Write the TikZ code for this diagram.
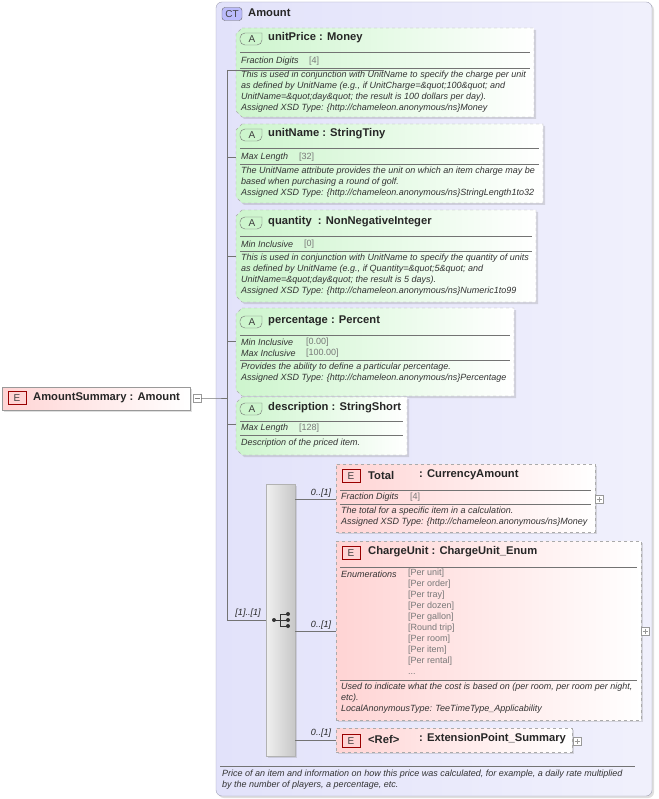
\documentclass[tikz,border=0pt]{standalone}
\usepackage{fontspec}
\setmainfont{Liberation Sans}
\usetikzlibrary{shadows}
\definecolor{ctfill}{RGB}{226,226,250}
\definecolor{ctline}{RGB}{160,160,180}
\definecolor{grn}{RGB}{205,245,205}
\definecolor{pnk}{RGB}{255,212,212}
\definecolor{dash}{RGB}{170,170,170}
\definecolor{valc}{RGB}{120,120,120}
\begin{document}
\begin{tikzpicture}[x=1pt,y=-1pt,
  title/.style={font=\fontsize{11.2}{12}\selectfont\bfseries,anchor=west,inner sep=0,text=black!85},
  small/.style={font=\fontsize{9}{11}\selectfont\itshape,anchor=west,inner sep=0,text=black!80},
  desc/.style={font=\fontsize{9}{11}\selectfont\itshape,anchor=north west,inner sep=0,align=left,text=black!80},
  val/.style={font=\fontsize{9}{11}\selectfont,anchor=west,inner sep=0,text=valc},
  vals/.style={font=\fontsize{9}{11}\selectfont,anchor=north west,inner sep=0,align=left,text=valc},
  abox/.style={draw=dash,dashed,left color=grn,right color=white,drop shadow={opacity=0.25,shadow xshift=2pt,shadow yshift=-2pt}},
  ebox/.style={draw=dash,dashed,left color=pnk,right color=white,drop shadow={opacity=0.25,shadow xshift=2pt,shadow yshift=-2pt}},
  sep/.style={draw=black!55,line width=0.5pt,solid},
  conn/.style={draw=black!55,line width=0.5pt,solid},
  card/.style={font=\fontsize{9}{10}\selectfont\itshape,inner sep=0,text=black!85},
  plus/.style={draw=black!40,fill=white,minimum size=8pt,inner sep=0,solid},
  badge/.style={solid,minimum width=18pt,minimum height=13pt,inner sep=0,font=\fontsize{10}{11}\selectfont,text=black!75},
]
\useasboundingbox (0,0) rectangle (658,799);
% CT box
\draw[draw=ctline,left color=ctfill,right color=ctfill!50!white,rounded corners=6pt,drop shadow={opacity=0.25,shadow xshift=2pt,shadow yshift=-2pt}] (216,2) rectangle (652,796);
\node[badge,draw=black!60,fill=ctfill!80!blue!90!white,rounded corners=3pt,minimum width=20pt] (ctb) at (232,14) {CT};
\node[title] (ctname) at (248,13) {Amount};

% Left element
\node[draw=black!40,left color=pnk,right color=white,minimum width=188pt,minimum height=23pt,anchor=north west,drop shadow={opacity=0.25,shadow xshift=2pt,shadow yshift=-2pt}] (sum) at (2,387) {};
\node[badge,draw=red!60!black,fill=pnk] at (17,398) {E};
\node[title] at (33,398) {AmountSummary : Amount};
\node[plus] (sumplus) at (197,398) {};
\draw[black!50,line width=0.4pt] (194.5,398)--(199.5,398);

% bus
\coordinate (bt) at (227,70);
\coordinate (bb) at (227,620);
\draw[conn] (sumplus.east) -- (216,398) -- (227,398);
\draw[conn] (bt) -- (bb);

\newcommand\abadge[2]{%
  \draw[solid,black!55,fill=grn,rounded corners=5pt] (#1+22,#2-6) -- (#1,#2-6) -- (#1,#2+6) -- (#1+22,#2+6) [sharp corners] -- cycle;
  \node[inner sep=0,font=\fontsize{10}{11}\selectfont,text=black!75] at (#1+12,#2) {A};}
\newcommand\chbox[5]{% name x1 y1 x2 y2
  \path[abox] (#2+6,#3) -- (#4,#3) -- (#4,#5) -- (#2+6,#5) -- (#2,#5-6) -- (#2,#3+6) -- cycle;
  \node[inner sep=0] (#1) at ({(#2+#4)/2},{(#3+#5)/2}) {};}
\newcommand\plusbox[2]{%
  \node[plus,minimum size=8pt] at (#1,#2) {}; \draw[solid,black!40,line width=0.4pt] (#1-2.5,#2)--(#1+2.5,#2) (#1,#2-2.5)--(#1,#2+2.5);}

% unitPrice
\chbox{up}{236}{28}{534}{117}
\abadge{240}{39}
\node[title] at (268,38) {unitPrice : Money};
\draw[sep] (240,52)--(530,52); \draw[sep] (240,68)--(530,68);
\node[small] at (241,61) {Fraction Digits}; \node[val] at (309,61) {[4]};
\node[desc] at (241,71) {This is used in conjunction with UnitName to specify the charge per unit\\as defined by UnitName (e.g., if UnitCharge=\&quot;100\&quot; and\\UnitName=\&quot;day\&quot; the result is 100 dollars per day).\\Assigned XSD Type: \{http://chameleon.anonymous/ns\}Money};
\draw[conn] (bt) -- (up.west |- 0,70);

% unitName
\chbox{un}{236}{124}{543}{203}
\abadge{240}{135}
\node[title] at (268,134) {unitName : StringTiny};
\draw[sep] (240,148)--(539,148); \draw[sep] (240,164)--(539,164);
\node[small] at (241,157) {Max Length}; \node[val] at (299,157) {[32]};
\node[desc] at (241,167) {The UnitName attribute provides the unit on which an item charge may be\\based when purchasing a round of golf.\\Assigned XSD Type: \{http://chameleon.anonymous/ns\}StringLength1to32};
\draw[conn] (227,157) -- (236,157);

% quantity
\chbox{qu}{236}{210}{536}{302}
\abadge{240}{223}
\node[title] at (268,222) {quantity \ : NonNegativeInteger};
\draw[sep] (240,236)--(532,236); \draw[sep] (240,251)--(532,251);
\node[small] at (241,244) {Min Inclusive}; \node[val] at (304,244) {[0]};
\node[desc] at (241,254) {This is used in conjunction with UnitName to specify the quantity of units\\as defined by UnitName (e.g., if Quantity=\&quot;5\&quot; and\\UnitName=\&quot;day\&quot; the result is 5 days).\\Assigned XSD Type: \{http://chameleon.anonymous/ns\}Numeric1to99};
\draw[conn] (227,256) -- (236,256);

% percentage
\chbox{pc}{236}{308}{514}{396}
\abadge{240}{322}
\node[title] at (268,321) {percentage : Percent};
\draw[sep] (240,335)--(510,335); \draw[sep] (240,360)--(510,360);
\node[small] at (241,342) {Min Inclusive}; \node[val] at (306,342) {[0.00]};
\node[small] at (241,353) {Max Inclusive}; \node[val] at (306,353) {[100.00]};
\node[desc] at (241,363) {Provides the ability to define a particular percentage.\\Assigned XSD Type: \{http://chameleon.anonymous/ns\}Percentage};
\draw[conn] (227,341) -- (236,341);

% description
\chbox{de}{236}{397}{407}{455}
\abadge{240}{409}
\node[title] at (268,408) {description : StringShort};
\draw[sep] (240,421)--(403,421); \draw[sep] (240,435)--(403,435);
\node[small] at (241,428) {Max Length}; \node[val] at (299,428) {[128]};
\node[desc] at (241,439) {Description of the priced item.};
\draw[conn] (227,424) -- (236,424);

% sequence
\node[draw=black!30,left color=black!6,right color=black!22,minimum width=29pt,minimum height=272pt,inner sep=0,anchor=north west,drop shadow={opacity=0.25,shadow xshift=2pt,shadow yshift=-2pt}] (seq) at (266,484) {};
\draw[conn] (bb) -- (seq.west |- 0,620);
\node[card] at (248,613) {[1]..[1]};
\draw[black!80,line width=1pt] (274,620)--(280,620) (280,614)--(280,626) (280,614)--(288,614) (280,620)--(288,620) (280,626)--(288,626);
\fill[black!80] (274,620) circle (2) (288,614) circle (2) (288,620) circle (2) (288,626) circle (2);

\newcommand\ebadge[2]{%
  \node[badge,draw=red!60!black,fill=pnk] at (#1,#2) {E};}

% Total
\node[ebox,minimum width=259pt,minimum height=68pt,anchor=north west,inner sep=0] (tot) at (336,464) {};
\ebadge{351}{476}
\node[title] at (368,475) {Total};
\node[title] at (419,475) {: CurrencyAmount};
\draw[sep] (340,490)--(591,490); \draw[sep] (340,504)--(591,504);
\node[small] at (341,497) {Fraction Digits}; \node[val] at (410,497) {[4]};
\node[desc] at (341,507) {The total for a specific item in a calculation.\\Assigned XSD Type: \{http://chameleon.anonymous/ns\}Money};
\plusbox{599}{499}
\draw[conn] (seq.east |- 0,499) -- (tot.west |- 0,499);
\node[card] at (321,493) {0..[1]};

% ChargeUnit
\node[ebox,minimum width=305pt,minimum height=179pt,anchor=north west,inner sep=0] (cu) at (336,541) {};
\ebadge{351}{553}
\node[title] at (368,552) {ChargeUnit : ChargeUnit\_Enum};
\draw[sep] (340,567)--(637,567); \draw[sep] (340,680)--(637,680);
\node[small] at (341,574) {Enumerations};
\node[vals] at (408,569) {[Per unit]\\{}[Per order]\\{}[Per tray]\\{}[Per dozen]\\{}[Per gallon]\\{}[Round trip]\\{}[Per room]\\{}[Per item]\\{}[Per rental]\\...};
\node[desc] at (341,683) {Used to indicate what the cost is based on (per room, per room per night,\\etc).\\LocalAnonymousType: TeeTimeType\_Applicability};
\plusbox{645}{631}
\draw[conn] (seq.east |- 0,631) -- (cu.west |- 0,631);
\node[card] at (321,625) {0..[1]};

% Ref
\node[ebox,minimum width=236pt,minimum height=24pt,anchor=north west,inner sep=0] (rf) at (336,728) {};
\ebadge{351}{741}
\node[title] at (368,739) {<Ref>};
\node[title] at (419,739) {: ExtensionPoint\_Summary};
\plusbox{577}{741}
\draw[conn] (seq.east |- 0,740) -- (rf.west |- 0,740);
\node[card] at (321,733) {0..[1]};

% footer
\draw[sep] (220,766)--(635,766);
\node[desc] at (222,770) {Price of an item and information on how this price was calculated, for example, a daily rate multiplied\\by the number of players, a percentage, etc.};
\end{tikzpicture}
\end{document}
